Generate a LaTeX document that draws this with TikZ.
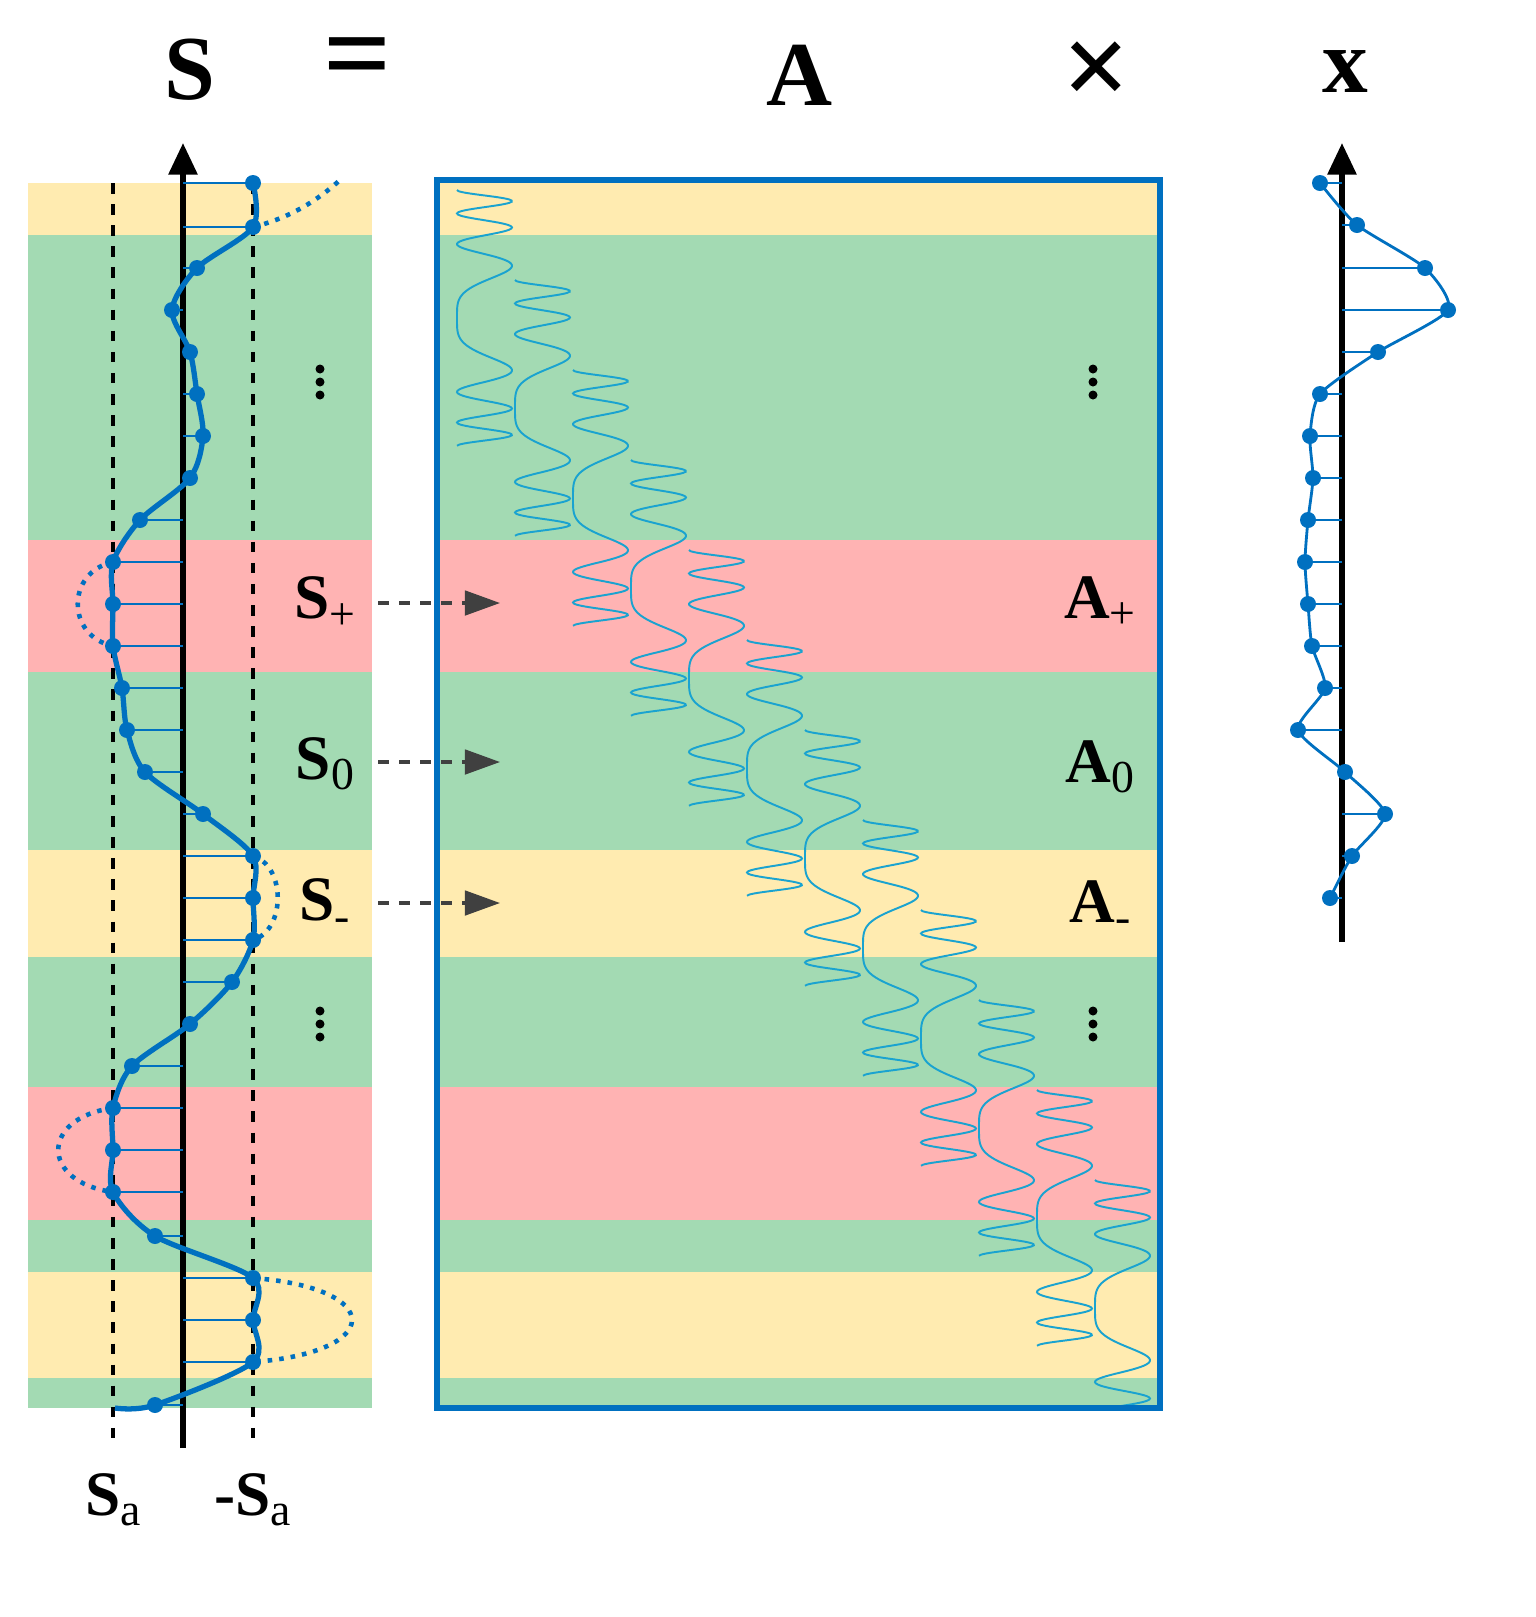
\documentclass[tikz,border=0pt]{standalone}
\usepackage{fontspec}
\setmainfont{Liberation Serif}
\usetikzlibrary{arrows.meta}
\definecolor{yel}{HTML}{FFEBB0}
\definecolor{grn}{HTML}{A3DAB3}
\definecolor{rd}{HTML}{FFB3B3}
\definecolor{bl}{HTML}{0070C0}
\definecolor{wv}{HTML}{1AA3D0}
\definecolor{ar}{HTML}{404040}
\tikzset{
 lbl/.style={font=\fontsize{18}{20}\selectfont\bfseries},
 big/.style={font=\fontsize{26}{28}\selectfont\bfseries},
 dot/.style={fill=bl},
 stem/.style={bl,line width=0.6pt},
 darr/.style={ar,dashed,line width=0.9pt,-{Triangle[length=10pt,width=7pt]}},
}
\newcommand{\sub}[1]{\raisebox{-0.35ex}{\fontsize{13}{12}\selectfont\mdseries #1}}
\newcommand{\bands}[2]{%
 \fill[yel] (#1,183) rectangle (#2,235);
 \fill[grn] (#1,235) rectangle (#2,540);
 \fill[rd] (#1,540) rectangle (#2,672);
 \fill[grn] (#1,672) rectangle (#2,850);
 \fill[yel] (#1,850) rectangle (#2,957);
 \fill[grn] (#1,957) rectangle (#2,1087);
 \fill[rd] (#1,1087) rectangle (#2,1220);
 \fill[grn] (#1,1220) rectangle (#2,1272);
 \fill[yel] (#1,1272) rectangle (#2,1378);
 \fill[grn] (#1,1378) rectangle (#2,1408);}
\newcommand{\vdt}[2]{\foreach \d in {-13,0,13} \fill (#1,#2+\d) circle (4.5);}
\begin{document}
\begin{tikzpicture}[x=0.01cm,y=-0.01cm]
\useasboundingbox (0,0) rectangle (1535,1617);
\bands{28}{372}
\bands{437}{1160}
% waves
\begin{scope}
\clip (437,180) rectangle (1158,1408);
\foreach \k in {0,...,11}{
 \pgfmathsetmacro{\xo}{457+58*\k}
 \pgfmathsetmacro{\cy}{318+90*\k}
 \draw[wv,line width=0.55pt] plot[domain=-1:1,samples=220,smooth] ({\xo+27.5*(1-cos(1080*\x*\x))},{\cy+128*\x});
}
\end{scope}
\draw[bl,line width=1.6pt] (437,180) rectangle (1160,1408);
% left axis
\draw[dashed,line width=0.9pt] (113,183) -- (113,1448);
\draw[dashed,line width=0.9pt] (253,183) -- (253,1448);
\draw[line width=1.6pt,-{Triangle[length=9pt,width=8pt]}] (183,1448) -- (183,143);
\foreach \px/\py in {253/183,253/227,197/268,172/310,190/352,197/394,203/436,190/478,140/520,113/562,113/604,113/646,122/688,127/730,145/772,203/814,253/856,253/898,253/940,232/982,190/1024,132/1066,113/1108,113/1150,113/1192,155/1236,253/1278,253/1320,253/1362,155/1405}{
 \draw[stem] (183,\py) -- (\px,\py);
 \fill[dot] (\px,\py) circle (8);
}
\draw[bl,line width=1.5pt] plot[smooth,tension=0.5] coordinates {(253,183)(253,227)(197,268)(172,310)(190,352)(197,394)(203,436)(190,478)(140,520)(113,562)(113,604)(113,646)(122,688)(127,730)(145,772)(203,814)(253,856)(253,898)(253,940)(232,982)(190,1024)(132,1066)(113,1108)(113,1150)(113,1192)(155,1236)(253,1278)(253,1320)(253,1362)(155,1405)(115,1408)};
\begin{scope}[bl,line width=1.3pt,dotted]
\draw (253,227) .. controls (290,218) and (318,200) .. (340,180);
\draw (113,562) .. controls (66,572) and (66,636) .. (113,646);
\draw (113,1108) .. controls (40,1118) and (40,1182) .. (113,1192);
\draw (253,856) .. controls (286,866) and (286,930) .. (253,940);
\draw (253,1278) .. controls (385,1288) and (385,1352) .. (253,1362);
\end{scope}
% labels
\node[big] (S) at (190,70) {S};
\node[font=\fontsize{34}{34}\selectfont\bfseries] (eq) at (358,66) {=};
\node[big] (A) at (800,75) {A};
\node[font=\fontsize{34}{34}\selectfont\bfseries] (tm) at (1097,74) {×};
\node[big] (X) at (1345,72) {x};
\node[lbl] (sp) at (325,603) {S\sub{+}};
\node[lbl] (s0) at (325,764) {S\sub{0}};
\node[lbl] (sm) at (325,905) {S\sub{-}};
\node[lbl] (ap) at (1100,603) {A\sub{+}};
\node[lbl] (a0) at (1100,767) {A\sub{0}};
\node[lbl] (am) at (1100,907) {A\sub{-}};
\node[lbl] (sa) at (113,1500) {S\sub{a}};
\node[lbl] (msa) at (253,1500) {-S\sub{a}};
\coordinate (t1) at (500,603); \coordinate (t2) at (500,762); \coordinate (t3) at (500,903);
\draw[darr] (378,603) -- (t1);
\draw[darr] (378,762) -- (t2);
\draw[darr] (378,903) -- (t3);
\vdt{320}{382}\vdt{320}{1024}\vdt{1093}{382}\vdt{1093}{1024}
% x vector
\draw[line width=1.6pt,-{Triangle[length=9pt,width=8pt]}] (1342,942) -- (1342,143);
\foreach \px/\py in {1320/183,1357/225,1425/268,1448/310,1378/352,1320/394,1310/436,1313/478,1308/520,1305/562,1308/604,1312/646,1325/688,1298/730,1345/772,1385/814,1352/856,1330/898}{
 \draw[stem] (1342,\py) -- (\px,\py);
 \fill[dot] (\px,\py) circle (8);
}
\draw[bl,line width=0.8pt] plot[smooth,tension=0.4] coordinates {(1320,183)(1357,225)(1425,268)(1448,310)(1378,352)(1320,394)(1310,436)(1313,478)(1308,520)(1305,562)(1308,604)(1312,646)(1325,688)(1298,730)(1345,772)(1385,814)(1352,856)(1330,898)};
\end{tikzpicture}
\end{document}
